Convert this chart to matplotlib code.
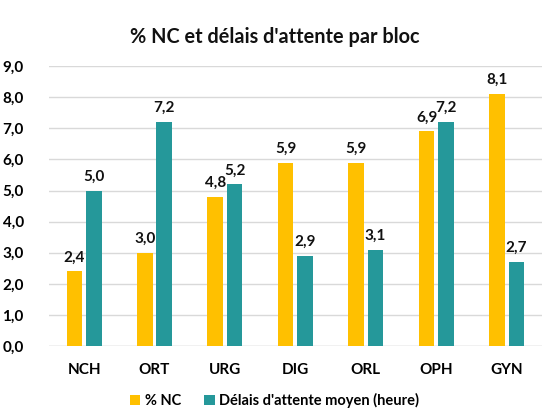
import matplotlib
matplotlib.use("Agg")
import matplotlib.pyplot as plt
import numpy as np

categories = ["NCH", "ORT", "URG", "DIG", "ORL", "OPH", "GYN"]
pct_nc = [2.4, 3.0, 4.8, 5.9, 5.9, 6.9, 8.1]
delais = [5.0, 7.2, 5.2, 2.9, 3.1, 7.2, 2.7]
series_names = ["% NC", "Délais d'attente moyen (heure)"]
yticks = np.arange(0, 9.01, 1.0)

plt.rcParams['font.family'] = ['Lato', 'DejaVu Sans']
YEL = "#FFC000"
TEAL = "#25989A"

fig = plt.figure(figsize=(5.49, 4.11), dpi=100)
ax = fig.add_axes([0.089, 0.158, 0.898, 0.681])
x = np.arange(len(categories))
w = 0.22
off = w / 2 + 0.028
b1 = ax.bar(x - off, pct_nc, w, color=YEL, label=series_names[0], zorder=3)
b2 = ax.bar(x + off, delais, w, color=TEAL, label=series_names[1], zorder=3)
for bars, vals in ((b1, pct_nc), (b2, delais)):
    for r, v in zip(bars, vals):
        ax.annotate(f"{v:.1f}".replace(".", ","), (r.get_x() + r.get_width() / 2, v),
                    xytext=(0, 5), textcoords="offset points", ha="center", va="bottom",
                    fontsize=11, fontweight="bold", color="#111111")
ax.set_xlim(-0.5, len(categories) - 0.5)
ax.set_ylim(0, 9)
ax.set_yticks(yticks)
ax.set_yticklabels([f"{t:.1f}".replace(".", ",") for t in yticks], fontsize=11, fontweight="bold")
ax.set_xticks(x)
ax.set_xticklabels(categories, fontsize=11, fontweight="bold")
ax.tick_params(length=0, pad=12)
ax.tick_params(axis='y', pad=18)
ax.yaxis.grid(True, color="#D9D9D9", linewidth=1, zorder=0)
for s in ax.spines.values():
    s.set_visible(False)
ax.axhline(0, color="#D9D9D9", linewidth=1, zorder=2)
fig.text(0.5, 0.91, "% NC et délais d'attente par bloc", ha="center", va="center",
         fontsize=14.3, fontweight="bold", color="#111111")
fig.legend(handles=[b1, b2], labels=series_names, loc="center", bbox_to_anchor=(0.5, 0.026),
           ncol=2, frameon=False, prop={'weight': 'bold', 'size': 10.5},
           handlelength=0.7, handleheight=0.7, handletextpad=0.3, columnspacing=1.6)
fig.savefig("out.png", dpi=100)
